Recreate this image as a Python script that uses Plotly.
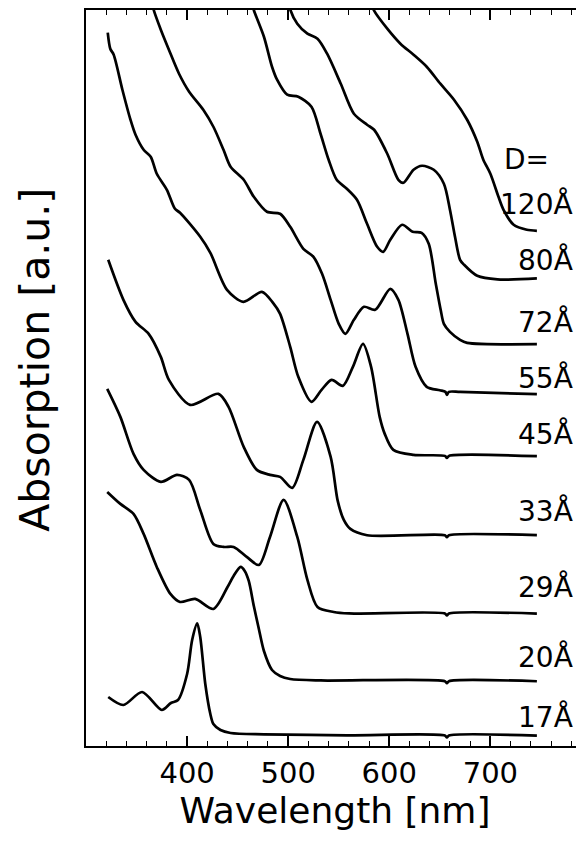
import plotly.graph_objects as go

# ---- data (wavelength in nm, absorption in a.u., curves offset as in the figure) ----
wl_17 = [322, 337, 355.5, 375, 384, 391, 400, 405, 410, 413, 418, 423, 426, 433, 443, 476, 558, 655, 657, 659, 746]
ab_17 = [0.49, 0.41, 0.54, 0.36, 0.43, 0.46, 0.72, 1.06, 1.225, 1.09, 0.62, 0.32, 0.22, 0.16, 0.13, 0.117, 0.107, 0.105, 0.085, 0.105, 0.104]

wl_20 = [321, 334, 347, 357, 370, 383.5, 393, 408, 426, 440, 446, 453, 457, 461, 466, 471, 476, 484, 492, 502, 532, 655, 657, 659, 746]
ab_20 = [2.54, 2.42, 2.32, 2.12, 1.79, 1.52, 1.44, 1.47, 1.37, 1.59, 1.70, 1.79, 1.75, 1.65, 1.40, 1.17, 0.95, 0.76, 0.70, 0.67, 0.655, 0.648, 0.628, 0.648, 0.647]

wl_29 = [321, 334, 347, 357, 374, 390, 402, 413, 426, 436, 446, 459, 471, 482, 495.5, 509, 519, 529, 545, 560, 655, 657, 659, 746]
ab_29 = [3.57, 3.29, 2.92, 2.76, 2.64, 2.71, 2.66, 2.36, 2.02, 1.99, 1.99, 1.89, 1.81, 2.09, 2.46, 2.09, 1.66, 1.39, 1.34, 1.325, 1.325, 1.305, 1.325, 1.324]

wl_33 = [322, 337, 349, 362, 374, 382, 403, 431, 441, 456, 469, 482, 492, 504, 515, 528.6, 542, 549, 555, 561.5, 578, 655, 657, 659, 746]
ab_33 = [4.86, 4.46, 4.24, 4.12, 3.89, 3.66, 3.41, 3.52, 3.39, 2.99, 2.76, 2.71, 2.69, 2.58, 2.86, 3.24, 2.89, 2.45, 2.26, 2.17, 2.107, 2.107, 2.087, 2.107, 2.107]

wl_45 = [321.5, 324, 327.4, 336, 344, 349, 357, 364, 370, 380, 388, 393, 413, 423, 439.5, 455.7, 474, 485, 492, 502, 510, 523, 533, 543, 554, 564, 574, 582, 590.5, 595.5, 604, 624, 655, 657, 659, 746]
ab_45 = [7.13, 6.97, 6.91, 6.56, 6.26, 6.11, 5.96, 5.89, 5.72, 5.56, 5.37, 5.33, 5.09, 4.93, 4.56, 4.44, 4.54, 4.43, 4.32, 3.99, 3.69, 3.44, 3.56, 3.66, 3.60, 3.79, 4.02, 3.79, 3.29, 3.12, 2.96, 2.91, 2.90, 2.88, 2.90, 2.897]

wl_55 = [364, 367, 374, 382, 392, 402, 416, 426, 436, 443, 456, 466, 479, 492, 502, 515, 525, 533.5, 542, 550, 556.6, 565, 575, 586, 601, 609, 618, 626, 637, 650, 655.5, 657, 659, 670, 746]
ab_55 = [7.50, 7.357, 7.16, 6.96, 6.72, 6.54, 6.36, 6.19, 5.96, 5.79, 5.66, 5.49, 5.34, 5.32, 5.19, 4.97, 4.89, 4.72, 4.46, 4.22, 4.12, 4.26, 4.39, 4.36, 4.57, 4.46, 4.12, 3.79, 3.59, 3.556, 3.54, 3.51, 3.54, 3.54, 3.517]

wl_72 = [464, 466, 476, 484, 489, 499, 510, 523, 532, 540, 548, 558, 568, 578, 588, 594, 601, 612.7, 623, 632, 639, 646, 651, 654, 660, 670, 677, 746]
ab_72 = [7.44, 7.357, 7.09, 6.79, 6.66, 6.51, 6.49, 6.39, 6.12, 5.86, 5.66, 5.57, 5.46, 5.22, 4.99, 4.94, 5.06, 5.21, 5.14, 5.13, 5.02, 4.62, 4.35, 4.22, 4.14, 4.06, 4.03, 4.017]

wl_80 = [500.7, 502.2, 509, 519, 529, 538.5, 552, 565, 578, 585, 598, 609, 614, 624, 632.4, 644, 654, 660, 665, 670, 674, 687, 707, 746]
ab_80 = [7.44, 7.357, 7.22, 7.12, 7.07, 6.92, 6.62, 6.32, 6.21, 6.16, 5.92, 5.66, 5.63, 5.76, 5.80, 5.76, 5.62, 5.36, 5.09, 4.86, 4.81, 4.70, 4.664, 4.674]

wl_120 = [582, 584.6, 598, 611, 624, 637, 650.5, 664, 677, 687, 693, 700, 708, 713, 723, 736, 746]
ab_120 = [7.44, 7.357, 7.17, 7.02, 6.91, 6.79, 6.62, 6.46, 6.26, 6.04, 5.86, 5.72, 5.49, 5.36, 5.21, 5.16, 5.15]

curves = [
    ("17Å", wl_17, ab_17),
    ("20Å", wl_20, ab_20),
    ("29Å", wl_29, ab_29),
    ("33Å", wl_33, ab_33),
    ("45Å", wl_45, ab_45),
    ("55Å", wl_55, ab_55),
    ("72Å", wl_72, ab_72),
    ("80Å", wl_80, ab_80),
    ("120Å", wl_120, ab_120),
]

# label text and vertical placement (a.u.)
label_text = ["17Å", "20Å", "29Å", "33Å", "45Å", "55Å", "72Å", "80Å", "120Å"]
label_y = [0.287, 0.887, 1.587, 2.347, 3.117, 3.677, 4.24, 4.857, 5.417]

x_ticks = [400, 500, 600, 700]

FONT = "DejaVu Sans"

fig = go.Figure()
for name, wl, ab in curves:
    fig.add_trace(go.Scatter(
        x=wl, y=ab, mode="lines", name=name,
        line=dict(color="black", width=2.7, shape="spline", smoothing=0.8),
        showlegend=False, hoverinfo="skip",
    ))

for txt, yv in zip(label_text, label_y):
    fig.add_annotation(x=784, y=yv, xref="x", yref="y", text=txt, showarrow=False,
                       xanchor="right", yanchor="middle",
                       font=dict(family=FONT, size=28, color="black"))
fig.add_annotation(x=711.4, y=5.867, xref="x", yref="y", text="D=", showarrow=False,
                   xanchor="left", yanchor="middle",
                   font=dict(family=FONT, size=28, color="black"))

fig.add_annotation(x=-0.104, y=0.525, xref="paper", yref="paper", text="Absorption [a.u.]",
                   showarrow=False, textangle=-90, xanchor="center", yanchor="middle",
                   font=dict(family=FONT, size=41, color="black"))

# the page body has an 8px margin, so the figure is sized to fill the rest of the window
fig.update_layout(
    width=576, height=838,
    margin=dict(l=78, r=0, t=2, b=100),
    paper_bgcolor="white", plot_bgcolor="white",
    xaxis=dict(
        range=[300, 792.6], tickvals=x_ticks, ticks="inside", ticklen=10, tickwidth=1.5,
        tickcolor="black", showline=True, linecolor="black", linewidth=1.5, mirror="ticks",
        showgrid=False, zeroline=False,
        minor=dict(dtick=20, tick0=300, ticks="inside", ticklen=5, tickwidth=1.3, tickcolor="black"),
        tickfont=dict(family=FONT, size=29, color="black"),
        title=dict(text="Wavelength [nm]", font=dict(family=FONT, size=36, color="black"), standoff=6),
    ),
    yaxis=dict(
        range=[0, 7.357], showticklabels=False, ticks="", showline=True, linecolor="black",
        linewidth=1.5, mirror=False, showgrid=False, zeroline=False,
    ),
)

fig.write_html("out.html")
